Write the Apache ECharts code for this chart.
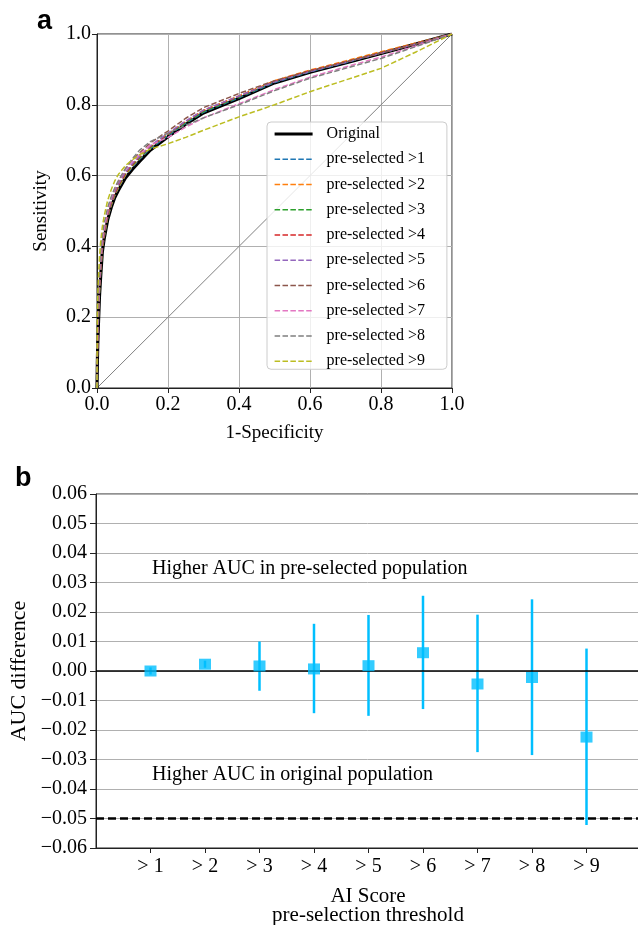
<!DOCTYPE html>
<html><head><meta charset="utf-8">
<script src="https://cdn.jsdelivr.net/npm/echarts@6/dist/echarts.min.js"></script>
<style>html,body{margin:0;padding:0;background:#fff}#c{width:638px;height:925px}</style>
</head><body><div id="c"></div>
<script>
// ---------- Panel a: ROC curves ----------
const fpr = [0, 0.001, 0.002, 0.004, 0.007, 0.01, 0.015, 0.02, 0.03, 0.04, 0.05, 0.06, 0.08, 0.1, 0.12, 0.15, 0.2, 0.25, 0.3, 0.4, 0.5, 0.6, 0.7, 0.8, 0.9, 1.0];
const tprOriginal = [0, 0.07, 0.12, 0.18, 0.26, 0.31, 0.385, 0.42, 0.475, 0.51, 0.538, 0.558, 0.593, 0.618, 0.64, 0.672, 0.71, 0.745, 0.777, 0.818, 0.862, 0.892, 0.918, 0.945, 0.972, 1.0];
const tprGt1 = [0, 0.08, 0.13, 0.19, 0.27, 0.32, 0.39, 0.425, 0.48, 0.515, 0.543, 0.564, 0.6, 0.624, 0.646, 0.676, 0.713, 0.748, 0.779, 0.82, 0.863, 0.893, 0.919, 0.946, 0.972, 1.0];
const tprGt2 = [0, 0.08, 0.13, 0.2, 0.275, 0.325, 0.39, 0.427, 0.482, 0.517, 0.545, 0.566, 0.602, 0.627, 0.649, 0.68, 0.717, 0.752, 0.784, 0.825, 0.868, 0.898, 0.924, 0.95, 0.975, 1.0];
const tprGt3 = [0, 0.09, 0.14, 0.2, 0.28, 0.33, 0.395, 0.43, 0.485, 0.52, 0.548, 0.569, 0.605, 0.629, 0.65, 0.68, 0.716, 0.75, 0.781, 0.822, 0.865, 0.895, 0.921, 0.947, 0.973, 1.0];
const tprGt4 = [0, 0.09, 0.14, 0.21, 0.285, 0.335, 0.4, 0.435, 0.488, 0.523, 0.55, 0.572, 0.607, 0.632, 0.653, 0.682, 0.718, 0.753, 0.784, 0.824, 0.866, 0.896, 0.921, 0.947, 0.973, 1.0];
const tprGt5 = [0, 0.1, 0.15, 0.21, 0.29, 0.34, 0.405, 0.44, 0.492, 0.527, 0.554, 0.575, 0.61, 0.635, 0.655, 0.684, 0.72, 0.754, 0.785, 0.825, 0.865, 0.894, 0.92, 0.946, 0.972, 1.0];
const tprGt6 = [0, 0.11, 0.16, 0.22, 0.3, 0.35, 0.41, 0.445, 0.497, 0.532, 0.56, 0.582, 0.618, 0.643, 0.664, 0.692, 0.726, 0.762, 0.792, 0.832, 0.868, 0.896, 0.921, 0.946, 0.972, 1.0];
const tprGt7 = [0, 0.12, 0.17, 0.23, 0.31, 0.36, 0.415, 0.45, 0.5, 0.535, 0.562, 0.584, 0.618, 0.641, 0.66, 0.686, 0.708, 0.737, 0.763, 0.803, 0.843, 0.878, 0.907, 0.935, 0.967, 1.0];
const tprGt8 = [0, 0.15, 0.2, 0.26, 0.33, 0.38, 0.43, 0.465, 0.51, 0.54, 0.565, 0.585, 0.62, 0.648, 0.672, 0.696, 0.72, 0.742, 0.763, 0.8, 0.84, 0.875, 0.903, 0.931, 0.965, 1.0];
const tprGt9 = [0, 0.2, 0.26, 0.31, 0.37, 0.41, 0.455, 0.485, 0.53, 0.56, 0.585, 0.603, 0.628, 0.645, 0.659, 0.675, 0.69, 0.708, 0.728, 0.766, 0.80, 0.837, 0.87, 0.903, 0.95, 1.0];
const chanceLine = [[0, 0], [1, 1]];
const rocNames = ['Original', 'pre-selected >1', 'pre-selected >2', 'pre-selected >3', 'pre-selected >4', 'pre-selected >5', 'pre-selected >6', 'pre-selected >7', 'pre-selected >8', 'pre-selected >9'];
const rocTpr = [tprOriginal, tprGt1, tprGt2, tprGt3, tprGt4, tprGt5, tprGt6, tprGt7, tprGt8, tprGt9];
const rocColors = ['#000000', '#1f77b4', '#ff7f0e', '#2ca02c', '#d62728', '#9467bd', '#8c564b', '#e377c2', '#7f7f7f', '#bcbd22'];

// ---------- Panel b: AUC differences ----------
const thresholds = [1, 2, 3, 4, 5, 6, 7, 8, 9];
const thresholdLabels = ['> 1', '> 2', '> 3', '> 4', '> 5', '> 6', '> 7', '> 8', '> 9'];
const aucDiff = [0.000, 0.0023, 0.0017, 0.0007, 0.0018, 0.0062, -0.0044, -0.0022, -0.0224];
const ciLow = [-0.0012, 0.0011, -0.0067, -0.0143, -0.0152, -0.0129, -0.0275, -0.0285, -0.0522];
const ciHigh = [0.0012, 0.0035, 0.0100, 0.0160, 0.0190, 0.0255, 0.0191, 0.0243, 0.0076];
const refZero = 0;
const nonInferiorityMargin = -0.05;

const SERIF = "'Liberation Serif', 'Times New Roman', serif";
const SANS = "'Liberation Sans', Arial, sans-serif";
const SPINE = '#222222';
const GRIDC = '#b0b0b0';
const BLUE = '#00bfff';

const chart = echarts.init(document.getElementById('c'), null, {renderer: 'canvas'});

const rocSeries = rocNames.map((name, k) => ({
  name: name,
  type: 'line',
  xAxisIndex: 0, yAxisIndex: 0,
  data: fpr.map((x, i) => [x, rocTpr[k][i]]),
  symbol: 'none', showSymbol: false,
  smooth: false,
  silent: true,
  z: 3 + k,
  lineStyle: k === 0 ? {color: rocColors[k], width: 3.2, type: 'solid'}
                     : {color: rocColors[k], width: 1.5, type: [5.5, 2.4]},
  itemStyle: {color: rocColors[k]}
}));

function fmtMinus(v, d) {
  let s = (Math.abs(v) < 1e-9 ? 0 : v).toFixed(d);
  return s.replace('-', '\u2212');
}

const legendData = rocNames.map((name, k) => ({
  name: name,
  lineStyle: k === 0 ? {width: 3.2, type: 'solid', color: rocColors[k]} : {width: 1.5, type: [5.5, 2.4], color: rocColors[k]}
}));

const option = {
  animation: false,
  backgroundColor: '#ffffff',
  grid: [
    {left: 97, top: 34, width: 355, height: 354, show: true, borderColor: SPINE, borderWidth: 1, backgroundColor: 'transparent', outerBoundsMode: 'none', containLabel: false},
    {left: 96, top: 494, width: 545, height: 354, show: true, borderColor: SPINE, borderWidth: 1, backgroundColor: 'transparent', outerBoundsMode: 'none', containLabel: false}
  ],
  legend: {
    data: legendData,
    orient: 'vertical',
    left: 267, top: 122,
    itemWidth: 38, itemHeight: 16, itemGap: 9.25,
    padding: [4, 22, 0, 6],
    backgroundColor: 'rgba(255,255,255,0.8)',
    borderColor: '#cccccc', borderWidth: 1, borderRadius: 4,
    selectedMode: false,
    itemStyle: {opacity: 0},
    textStyle: {fontFamily: SERIF, fontSize: 16, color: '#000', lineHeight: 16, padding: [0, 0, 0, 9]},
    z: 20
  },
  xAxis: [
    {
      type: 'value', gridIndex: 0, min: 0, max: 1, interval: 0.2,
      axisLine: {show: true, onZero: false, lineStyle: {color: SPINE, width: 1}},
      axisTick: {show: true, length: 5, lineStyle: {color: SPINE}},
      axisLabel: {fontFamily: SERIF, fontSize: 20, color: '#000', margin: 7, formatter: v => v.toFixed(1)},
      splitLine: {show: true, lineStyle: {color: GRIDC, width: 1}},
      name: '1-Specificity', nameLocation: 'middle', nameGap: 36,
      nameTextStyle: {fontFamily: SERIF, fontSize: 19, color: '#000'}
    },
    {
      type: 'value', gridIndex: 1, min: 0, max: 10,
      axisLine: {show: true, onZero: false, lineStyle: {color: SPINE, width: 1}},
      axisTick: {show: true, length: 5, customValues: thresholds, lineStyle: {color: SPINE}},
      axisLabel: {fontFamily: SERIF, fontSize: 20, color: '#000', margin: 9, customValues: thresholds,
        formatter: v => { const i = thresholds.indexOf(Math.round(v)); return i >= 0 ? thresholdLabels[i] : ''; }},
      splitLine: {show: false}
    }
  ],
  yAxis: [
    {
      type: 'value', gridIndex: 0, min: 0, max: 1, interval: 0.2,
      axisLine: {show: true, onZero: false, lineStyle: {color: SPINE, width: 1}},
      axisTick: {show: true, length: 5, lineStyle: {color: SPINE}},
      axisLabel: {fontFamily: SERIF, fontSize: 20, color: '#000', margin: 6, formatter: v => v.toFixed(1)},
      splitLine: {show: true, lineStyle: {color: GRIDC, width: 1}},
      name: 'Sensitivity', nameLocation: 'middle', nameGap: 46, nameRotate: 90,
      nameTextStyle: {fontFamily: SERIF, fontSize: 19, color: '#000'}
    },
    {
      type: 'value', gridIndex: 1, min: -0.06, max: 0.06, interval: 0.01,
      axisLine: {show: true, onZero: false, lineStyle: {color: SPINE, width: 1}},
      axisTick: {show: true, length: 6, lineStyle: {color: SPINE}},
      axisLabel: {fontFamily: SERIF, fontSize: 20, color: '#000', margin: 9, formatter: v => fmtMinus(v, 2)},
      splitLine: {show: true, lineStyle: {color: GRIDC, width: 1}},
      name: 'AUC difference', nameLocation: 'middle', nameGap: 64, nameRotate: 90,
      nameTextStyle: {fontFamily: SERIF, fontSize: 22, color: '#000'}
    }
  ],
  series: [
    {
      name: 'chance', type: 'line', xAxisIndex: 0, yAxisIndex: 0,
      data: chanceLine, symbol: 'none', silent: true, z: 2,
      lineStyle: {color: '#808080', width: 1}
    },
    ...rocSeries,
    {
      name: 'ci', type: 'custom', xAxisIndex: 1, yAxisIndex: 1, silent: true, z: 4,
      data: thresholds.map((t, i) => [t, ciLow[i], ciHigh[i]]),
      encode: {x: 0, y: [1, 2]},
      renderItem: function (params, api) {
        const p1 = api.coord([api.value(0), api.value(1)]);
        const p2 = api.coord([api.value(0), api.value(2)]);
        return {type: 'line', shape: {x1: p1[0], y1: p1[1], x2: p2[0], y2: p2[1]},
                style: {stroke: BLUE, lineWidth: 2.5}};
      }
    },
    {
      name: 'auc', type: 'scatter', xAxisIndex: 1, yAxisIndex: 1, silent: true, z: 5,
      data: thresholds.map((t, i) => [t, aucDiff[i]]),
      symbol: 'rect', symbolSize: [12, 11],
      itemStyle: {color: BLUE},
      markLine: {
        silent: true, symbol: ['none', 'none'], label: {show: false},
        data: [
          {yAxis: refZero, lineStyle: {color: '#000', width: 1.5, type: 'solid'}},
          {yAxis: nonInferiorityMargin, lineStyle: {color: '#000', width: 2.5, type: [8, 4]}}
        ]
      }
    }
  ],
  graphic: [
    {type: 'text', left: 37, top: 8, style: {text: 'a', font: 'bold 27px ' + SANS, fill: '#000'}},
    {type: 'text', left: 15, top: 465, style: {text: 'b', font: 'bold 27px ' + SANS, fill: '#000'}},
    {type: 'text', x: 152, y: 569, style: {text: 'Higher AUC in pre-selected population', font: '20px ' + SERIF, fill: '#000', textAlign: 'left', textVerticalAlign: 'middle'}},
    {type: 'text', x: 152, y: 775, style: {text: 'Higher AUC in original population', font: '20px ' + SERIF, fill: '#000', textAlign: 'left', textVerticalAlign: 'middle'}},
    {type: 'text', x: 368, y: 896, style: {text: 'AI Score', font: '21px ' + SERIF, fill: '#000', textAlign: 'center', textVerticalAlign: 'middle'}},
    {type: 'text', x: 368, y: 915, style: {text: 'pre-selection threshold', font: '21px ' + SERIF, fill: '#000', textAlign: 'center', textVerticalAlign: 'middle'}}
  ]
};
chart.setOption(option);
</script>
</body></html>
